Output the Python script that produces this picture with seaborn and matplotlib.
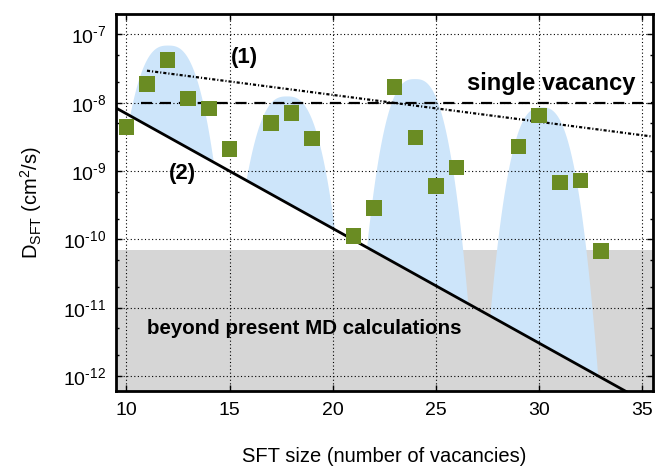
import numpy as np
import matplotlib
matplotlib.use("Agg")
import matplotlib.pyplot as plt
import matplotlib.ticker as mticker
import seaborn as sns

# ---- data ----
sft_size = [10, 11, 12, 13, 14, 15, 17, 18, 19, 21, 22, 23, 24, 25, 26, 29, 30, 31, 32, 33]
d_sft = [4.4e-9, 1.87e-8, 4.2e-8, 1.16e-8, 8.3e-9, 2.1e-9, 5.1e-9, 7.1e-9, 3.0e-9,
         1.13e-10, 2.9e-10, 1.71e-8, 3.1e-9, 6.1e-10, 1.13e-9, 2.29e-9, 6.5e-9,
         6.8e-10, 7.3e-10, 6.8e-11]

# guide lines (endpoints)
line1_x = [11.0, 35.5]
line1_y = [2.95e-8, 3.2e-9]
line2_x = [9.5, 35.5]
line2_y = [8.4e-9, 3.6e-13]
single_vac_x = [10.7, 35.5]
single_vac_y = [1e-8, 1e-8]

# MD limit (grey band)
md_limit = 7e-11

# envelope bumps: centre, peak value, width coefficient
bump_center = [12.0, 17.76, 23.96, 30.1]
bump_peak = [7.0e-8, 1.26e-8, 2.26e-8, 8.7e-9]
bump_k = [0.20, 0.20, 0.254, 0.26]
bump_pow = 2.7

x_ticks = [10, 15, 20, 25, 30, 35]

# ---- styling ----
sns.set_theme(style="ticks")
plt.rcParams["font.family"] = ["Liberation Sans", "DejaVu Sans"]
plt.rcParams["mathtext.fontset"] = "custom"
plt.rcParams["mathtext.rm"] = "Liberation Sans"
plt.rcParams["mathtext.it"] = "Liberation Sans:italic"
plt.rcParams["mathtext.bf"] = "Liberation Sans:bold"
plt.rcParams["text.color"] = "black"
plt.rcParams["axes.labelcolor"] = "black"
plt.rcParams["xtick.color"] = "black"
plt.rcParams["ytick.color"] = "black"

fig = plt.figure(figsize=(6.58, 4.68), dpi=100)
ax = fig.add_axes([116 / 658, 1 - 391 / 468, (652.7 - 116) / 658, (391 - 14) / 468])
ax.set_yscale("log")
ax.set_xlim(9.5, 35.5)
ax.set_ylim(10 ** -12.22, 10 ** -6.70)

# grey band
ax.axhspan(10 ** -12.5, md_limit, color="#d6d6d6", zorder=0.5, lw=0)

# blue envelopes, filled down to line (2)
l2x = np.array(line2_x)
l2y = np.log10(line2_y)
for c, p, k in zip(bump_center, bump_peak, bump_k):
    xs = np.linspace(c - 3.6, c + 3.6, 600)
    curve = np.log10(p) - k * np.abs(xs - c) ** bump_pow
    base = np.interp(xs, l2x, l2y)
    ax.fill_between(xs, 10 ** base, 10 ** curve, where=curve > base,
                    interpolate=True, color="#cde5fa", lw=0, zorder=1)

# grid
ax.grid(True, which="major", color="black", linestyle=(0, (1, 2.2)), linewidth=0.8, zorder=1.5)
ax.set_axisbelow(False)

# lines
sns.lineplot(x=line2_x, y=line2_y, ax=ax, color="black", lw=2.0, zorder=2)
sns.lineplot(x=single_vac_x, y=single_vac_y, ax=ax, color="black", lw=1.6,
             linestyle=(0, (5, 3.5)), zorder=2)
sns.lineplot(x=line1_x, y=line1_y, ax=ax, color="black", lw=1.6,
             linestyle=(0, (1.4, 0.9, 0.5, 0.9)), zorder=2)

# markers
sns.scatterplot(x=sft_size, y=d_sft, ax=ax, marker="s", s=125, color="#6a8c23",
                edgecolor="none", linewidth=0, zorder=3)

# texts
ax.text(15.7, 10 ** -7.33, "(1)", fontsize=16, fontweight="bold", ha="center", va="center", zorder=4)
ax.text(12.7, 10 ** -9.035, "(2)", fontsize=16, fontweight="bold", ha="center", va="center", zorder=4)
ax.text(34.67, 10 ** -7.717, "single vacancy", fontsize=17, fontweight="bold",
        ha="right", va="center", zorder=4)
ax.text(11.0, 10 ** -11.307, "beyond present MD calculations", fontsize=14.8,
        fontweight="bold", ha="left", va="center", zorder=4)

# axes
for s in ax.spines.values():
    s.set_linewidth(2.0)
    s.set_color("black")
    s.set_zorder(5)

ax.set_xticks(x_ticks)
ax.xaxis.set_minor_locator(mticker.NullLocator())
ax.yaxis.set_major_locator(mticker.LogLocator(base=10, numticks=20))
ax.yaxis.set_minor_locator(mticker.LogLocator(base=10, subs=[2, 5], numticks=20))


def yfmt(v, pos):
    e = int(round(np.log10(v)))
    return r"$10^{\text{%d}}$" % e


ax.yaxis.set_major_formatter(mticker.FuncFormatter(yfmt))
ax.yaxis.set_minor_formatter(mticker.NullFormatter())
ax.tick_params(which="both", direction="in", top=True, right=True, color="black",
               labelcolor="black")
ax.tick_params(which="major", length=4.5, width=1.0, labelsize=14, pad=7)
ax.tick_params(which="minor", length=2.5, width=1.0)
ax.tick_params(axis="x", pad=8)

ax.set_xlabel("SFT size (number of vacancies)", fontsize=14.5, labelpad=20, color="black")
ax.set_ylabel(r"D$_\mathregular{SFT}$ (cm$^\mathregular{2}$/s)", fontsize=14.5, labelpad=14,
              color="black")

fig.savefig("out.png", dpi=100)
